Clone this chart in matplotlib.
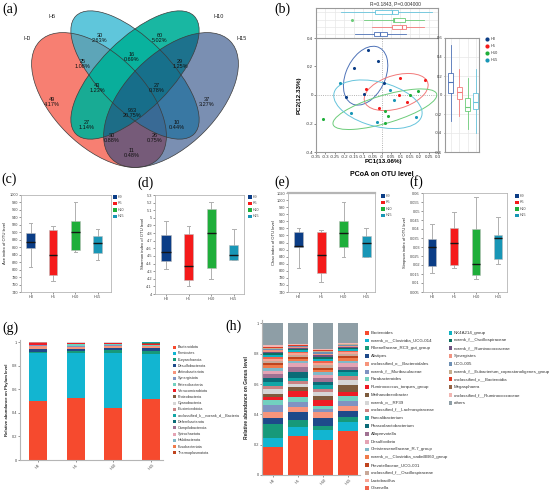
import numpy as np
import matplotlib
matplotlib.use('Agg')
import matplotlib.pyplot as plt
from matplotlib.patches import Ellipse, Rectangle

plt.rcParams['font.family'] = ['Liberation Sans', 'DejaVu Sans']

# ---------------- data ----------------
groups = ['H0', 'H5', 'H10', 'H15']
group_colors = ['#0b3d86', '#f51a1a', '#1fae3a', '#1896b6']
group_light = ['#4f73b8', '#f27a7a', '#6ccc7a', '#66c4dc']

# (a) Venn
venn_sets = ['H0', 'H5', 'H10', 'H15']
venn_counts = [49, 30, 60, 37, 25, 16, 29, 43, 27, 963, 27, 10, 30, 26, 11]
venn_pcts = ['4.17%', '2.63%', '5.02%', '3.27%', '1.08%', '0.69%', '1.25%',
             '1.23%', '0.78%', '20.75%', '1.14%', '0.44%', '0.88%', '0.75%', '0.48%']

# (b) PCoA points
pc1_H0 = [-0.073, -0.018, -0.149, 0.011, -0.095, -0.190]
pc2_H0 = [0.318, 0.236, 0.187, 0.082, 0.007, -0.017]
pc1_H5 = [0.099, 0.229, -0.082, 0.094, 0.135, -0.012]
pc2_H5 = [0.121, 0.105, 0.040, 0.000, -0.052, -0.089]
pc1_H10 = [0.193, 0.153, -0.314, 0.015, 0.035, 0.020]
pc2_H10 = [0.025, 0.000, -0.169, -0.110, -0.148, -0.197]
pc1_H15 = [-0.224, 0.045, 0.063, -0.165, -0.023, 0.184]
pc2_H15 = [0.082, 0.037, -0.035, -0.129, -0.188, -0.157]
# box summaries (whislo, q1, med, q3, whishi)
pc1_box = [[-0.140, -0.042, -0.010, 0.026, 0.128],
           [-0.050, 0.057, 0.110, 0.132, 0.227],
           [-0.096, 0.060, 0.066, 0.125, 0.227],
           [-0.216, -0.037, 0.053, 0.087, 0.267]]
pc1_fliers = [[], [], [-0.158], []]
pc2_box = [[-0.278, 0.024, 0.140, 0.227, 0.526],
           [-0.225, -0.042, 0.027, 0.087, 0.270],
           [-0.360, -0.165, -0.123, -0.032, 0.180],
           [-0.400, -0.147, -0.078, 0.020, 0.270]]

# (c)-(f) alpha diversity box summaries (whislo, q1, med, q3, whishi)
ace_stats = [[806, 857, 874, 897.6, 924], [770, 785, 839, 905.6, 916],
             [848, 853, 901, 929, 982], [826, 844, 871, 889.6, 908]]
shannon_stats = [[4.334, 4.436, 4.552, 4.770, 4.962], [4.102, 4.178, 4.374, 4.788, 4.895],
                 [4.200, 4.343, 4.797, 5.117, 5.207], [4.440, 4.440, 4.507, 4.637, 4.855]]
chao_stats = [[808, 866, 870, 909.6, 921], [768, 795, 843.6, 910.6, 915],
              [839, 867, 906, 941.7, 994.5], [839.4, 839.4, 880, 899, 921]]
simpson_stats = [[0.0156, 0.0195, 0.0302, 0.0345, 0.0430], [0.0184, 0.0199, 0.0320, 0.0406, 0.0492],
                 [0.0123, 0.0143, 0.0207, 0.0400, 0.0576], [0.0207, 0.0235, 0.0352, 0.0369, 0.0465]]

# (g) phylum
phylum_names = ['Bacteroidota', 'Firmicutes', 'Euryarchaeota', 'Desulfobacterota', 'Actinobacteriota',
                'Synergistota', 'Patescibacteria', 'Verrucomicrobiota', 'Proteobacteria', 'Cyanobacteria',
                'Elusimicrobiota', 'unclassified_k__norank_d__Bacteria', 'Deferribacterota',
                'Campilobacterota', 'Spirochaetota', 'Halobacterota', 'Fusobacteriota', 'Thermoplasmatota']
phylum_H0 = [0.500, 0.404, 0.014, 0.024, 0.022, 0.008, 0.006, 0.010, 0.004, 0.002, 0.002, 0.001, 0.001, 0.001, 0.0005, 0.0005, 0.0003, 0.0002]
phylum_H5 = [0.524, 0.383, 0.018, 0.018, 0.012, 0.010, 0.022, 0.003, 0.004, 0.002, 0.001, 0.001, 0.0005, 0.0005, 0.0003, 0.0003, 0.0002, 0.0002]
phylum_H10 = [0.437, 0.470, 0.025, 0.018, 0.020, 0.006, 0.008, 0.006, 0.004, 0.002, 0.001, 0.001, 0.0005, 0.0005, 0.0003, 0.0003, 0.0002, 0.0002]
phylum_H15 = [0.518, 0.378, 0.030, 0.020, 0.016, 0.008, 0.006, 0.004, 0.010, 0.003, 0.002, 0.001, 0.001, 0.001, 0.0005, 0.0005, 0.0003, 0.0002]

# (h) genus
genus_names = ['Bacteroides', 'norank_o__Clostridia_UCG-014', 'Rikenellaceae_RC9_gut_group', 'Alistipes',
               'unclassified_o__Bacteroidales', 'norank_f__Muribaculaceae', 'Parabacteroides',
               'Ruminococcus_torques_group', 'Methanobrevibacter', 'norank_o__RF39',
               'unclassified_f__Lachnospiraceae', 'Faecalibacterium', 'Phascolarctobacterium',
               'Alloprevotella', 'Desulfovibrio', 'Christensenellaceae_R-7_group',
               'norank_o__Clostridia_vadinBB60_group', 'Prevotellaceae_UCG-001',
               'unclassified_f__Oscillospiraceae', 'Lactobacillus', 'Olsenella',
               'NK4A214_group', 'norank_f__Oscillospiraceae', 'norank_f__Ruminococcaceae', 'Synergistes',
               'UCG-005', 'norank_f__Eubacterium_coprostanoligenes_group', 'unclassified_c__Bacteroidia',
               'Megasphaera', 'unclassified_f__Ruminococcaceae', 'others']
genus_H0 = [0.182, 0.062, 0.094, 0.040, 0.035, 0.049, 0.033, 0.020, 0.020, 0.029, 0.024, 0.028, 0.022, 0.029, 0.022, 0.015,
            0.018, 0.015, 0.016, 0.013, 0.013, 0.013, 0.013, 0.009, 0.009, 0.007, 0.006, 0.007, 0.004, 0.007, 0.147]
genus_H5 = [0.257, 0.062, 0.044, 0.055, 0.030, 0.031, 0.037, 0.040, 0.026, 0.018, 0.020, 0.017, 0.040, 0.037, 0.022, 0.016,
            0.013, 0.013, 0.013, 0.011, 0.011, 0.009, 0.009, 0.006, 0.007, 0.004, 0.005, 0.002, 0.002, 0.005, 0.138]
genus_H10 = [0.231, 0.064, 0.028, 0.051, 0.039, 0.022, 0.022, 0.035, 0.031, 0.022, 0.022, 0.026, 0.022, 0.022, 0.022, 0.018,
             0.015, 0.016, 0.017, 0.016, 0.013, 0.013, 0.013, 0.011, 0.009, 0.009, 0.006, 0.007, 0.004, 0.007, 0.167]
genus_H15 = [0.292, 0.055, 0.038, 0.039, 0.033, 0.031, 0.035, 0.026, 0.044, 0.033, 0.029, 0.022, 0.015, 0.022, 0.022, 0.016,
             0.017, 0.013, 0.014, 0.013, 0.011, 0.011, 0.009, 0.006, 0.007, 0.004, 0.005, 0.002, 0.002, 0.004, 0.130]

palette = ['#f64a2e', '#12b5d1', '#17997a', '#1e4a8a', '#f7957c', '#7f93c2', '#72d0c0', '#ee1c25',
           '#7d5b3d', '#d6d6d6', '#c98282', '#12a6a6', '#0b6b77', '#a07192', '#e4a3b4', '#80b8c8',
           '#f07b4b', '#c0441e', '#c8a898', '#f8a494', '#f0644c', '#0fb2c2', '#0d6f5f', '#6e5280',
           '#f19482', '#6d8fb3', '#c5ad8c', '#dd3a25', '#946344', '#f2b6b2', '#8e9ea6']

# ---------------- layout helpers ----------------
W, H = 550, 495
fig = plt.figure(figsize=(5.5, 4.95), dpi=100)
fig.patch.set_facecolor('white')


def px_axes(l, t, r, b):
    return fig.add_axes([l / W, 1 - b / H, (r - l) / W, (b - t) / H])


SPINE = '#a8a8a8'


def style_spines(ax, color=SPINE, lw=0.6):
    for s in ax.spines.values():
        s.set_color(color)
        s.set_linewidth(lw)


def fmt(v):
    return f'{round(v, 4):g}'


# ---------------- (b) PCoA ----------------
pc1_all = [pc1_H0, pc1_H5, pc1_H10, pc1_H15]
pc2_all = [pc2_H0, pc2_H5, pc2_H10, pc2_H15]

axm = px_axes(316, 38, 438, 152)
axm.set_xlim(-0.35, 0.3)
axm.set_ylim(-0.4, 0.4)
axm.axhline(0, color='#9a9a9a', lw=0.6, ls=':', zorder=0)
axm.axvline(0, color='#9a9a9a', lw=0.6, ls=':', zorder=0)
k_std = 1.55
for x, y, c, cl in zip(pc1_all, pc2_all, group_colors, group_light):
    x = np.asarray(x)
    y = np.asarray(y)
    cov = np.cov(x, y)
    vals, vecs = np.linalg.eigh(cov)
    order = vals.argsort()[::-1]
    vals, vecs = vals[order], vecs[:, order]
    ang = np.degrees(np.arctan2(vecs[1, 0], vecs[0, 0]))
    axm.add_patch(Ellipse((x.mean(), y.mean()), 2 * k_std * np.sqrt(vals[0]), 2 * k_std * np.sqrt(vals[1]),
                          angle=ang, fill=False, ec=cl, lw=0.7))
    axm.scatter(x, y, s=5, color=c, zorder=3, lw=0)
xt = np.arange(-0.35, 0.3001, 0.05)
axm.set_xticks(xt)
axm.set_xticklabels([fmt(v) for v in xt])
yt = np.arange(-0.4, 0.4001, 0.2)
axm.set_yticks(yt)
axm.set_yticklabels([fmt(v) for v in yt])
axm.tick_params(labelsize=3.2, length=1.2, width=0.4, pad=1, colors='#333333')
style_spines(axm, '#9a9a9a', 0.8)

# top box panel
axt = px_axes(316, 8, 438, 38)
st = [dict(whislo=s[0], q1=s[1], med=s[2], q3=s[3], whishi=s[4], fliers=f) for s, f in zip(pc1_box, pc1_fliers)]
art = axt.bxp(st, positions=[1, 2, 3, 4], widths=0.55, orientation='horizontal', patch_artist=True,
              showfliers=True, capwidths=0.0)
for i, c in enumerate(group_light):
    art['boxes'][i].set(facecolor='white', edgecolor=c, lw=0.6)
    art['medians'][i].set(color=c, lw=0.8)
    for w in art['whiskers'][2 * i:2 * i + 2]:
        w.set(color=c, lw=0.6)
    for cp in art['caps'][2 * i:2 * i + 2]:
        cp.set(color=c, lw=0)
    art['fliers'][i].set(marker='o', markersize=1.2, markerfacecolor=c, markeredgecolor=c)
axt.set_xlim(-0.35, 0.3)
axt.set_ylim(0.45, 4.6)
axt.set_xticks(xt)
axt.set_xticklabels([])
axt.set_yticks([1, 2, 3, 4])
axt.set_yticklabels([])
axt.tick_params(length=0)
axt.grid(True, color='#e8e8e8', lw=0.5)
axt.set_axisbelow(True)
style_spines(axt, '#9a9a9a', 0.8)

# right box panel
axr = px_axes(445, 38, 479, 152)
st = [dict(whislo=s[0], q1=s[1], med=s[2], q3=s[3], whishi=s[4], fliers=[]) for s in pc2_box]
art = axr.bxp(st, positions=[1, 2, 3, 4], widths=0.6, patch_artist=True, showfliers=False, capwidths=0.0)
for i, c in enumerate(group_light):
    art['boxes'][i].set(facecolor='white', edgecolor=c, lw=0.6)
    art['medians'][i].set(color=c, lw=0.8)
    for w in art['whiskers'][2 * i:2 * i + 2]:
        w.set(color=c, lw=0.6)
    for cp in art['caps'][2 * i:2 * i + 2]:
        cp.set(lw=0)
axr.set_xlim(0.32, 4.36)
axr.set_ylim(-0.6, 0.6)
yt2 = np.arange(-0.6, 0.6001, 0.2)
axr.set_yticks(yt2)
axr.set_yticklabels([fmt(v) for v in yt2])
axr.set_xticks([1, 2, 3, 4])
axr.set_xticklabels([])
axr.tick_params(labelsize=3.0, length=1.0, width=0.4, pad=1, colors='#333333')
axr.tick_params(axis='x', length=0)
axr.grid(True, color='#e8e8e8', lw=0.5)
axr.set_axisbelow(True)
style_spines(axr, '#9a9a9a', 0.8)


# ---------------- (c)-(f) box panels ----------------
def box_panel(rect, xlim, stats, ylim, yticks):
    ax = px_axes(*rect)
    bs = [dict(whislo=s[0], q1=s[1], med=s[2], q3=s[3], whishi=s[4], fliers=[]) for s in stats]
    art = ax.bxp(bs, positions=[1, 2, 3, 4], widths=0.4, patch_artist=True, showfliers=False, capwidths=0.16)
    for i, c in enumerate(group_colors):
        art['boxes'][i].set(facecolor=c, edgecolor='#bbbbbb', lw=0.4, zorder=2)
        art['medians'][i].set(color='#151515', lw=1.0, zorder=3)
        for w in art['whiskers'][2 * i:2 * i + 2]:
            w.set(color='#b0b0b0', lw=0.7, zorder=1)
        for cp in art['caps'][2 * i:2 * i + 2]:
            cp.set(color='#b0b0b0', lw=0.7, zorder=1)
    ax.set_xlim(*xlim)
    ax.set_ylim(*ylim)
    ax.set_yticks(yticks)
    ax.set_yticklabels([fmt(v) for v in yticks])
    ax.set_xticks([1, 2, 3, 4])
    ax.set_xticklabels(groups)
    ax.tick_params(labelsize=2.8, length=1.2, width=0.4, pad=1, colors='#444444')
    style_spines(ax, '#b5b5b5', 0.6)
    return ax


axc = box_panel((21, 195, 111, 292), (0.565, 4.6), ace_stats, (740, 1000), np.arange(740, 1001, 20))
axd = box_panel((155, 195, 244, 294), (0.513, 4.456), shannon_stats, (4.0, 5.3), np.arange(4.0, 5.3001, 0.1))
axe = box_panel((288, 193, 375, 292), (0.533, 4.4), chao_stats, (740, 1020), np.arange(740, 1021, 20))
axe.spines['top'].set_linewidth(1.6)
axf = box_panel((423, 193, 507, 292), (0.59, 4.41), simpson_stats, (0.005, 0.06), np.arange(0.005, 0.06001, 0.005))

# ---------------- (g) phylum bars ----------------
phylum_all = [phylum_H0, phylum_H5, phylum_H10, phylum_H15]
axg = px_axes(20, 340, 163, 460)
xpos = np.arange(len(groups))
bottom = np.zeros(len(groups))
for j in range(len(phylum_names)):
    vals = np.array([p[j] for p in phylum_all])
    axg.bar(xpos, vals, width=0.48, bottom=bottom, color=palette[j], lw=0)
    bottom += vals
axg.set_xlim(-0.477, 3.316)
axg.set_ylim(0, 1.017)
axg.set_yticks([0, 0.2, 0.4, 0.6, 0.8, 1.0])
axg.set_yticklabels(['0', '0.2', '0.4', '0.6', '0.8', '1'])
axg.set_xticks(xpos)
axg.set_xticklabels(groups, rotation=45)
axg.tick_params(labelsize=2.8, length=1.2, width=0.4, pad=1, colors='#444444')
for s in ['top', 'right']:
    axg.spines[s].set_visible(False)
for s in ['left', 'bottom']:
    axg.spines[s].set_color('#b5b5b5')
    axg.spines[s].set_linewidth(0.8)

# ---------------- (h) genus bars ----------------
genus_all = [genus_H0, genus_H5, genus_H10, genus_H15]
axh = px_axes(262, 320, 360, 475)
bottom = np.zeros(len(groups))
for j in range(len(genus_names)):
    vals = np.array([g[j] for g in genus_all])
    axh.bar(xpos, vals, width=0.8, bottom=bottom, color=palette[j], lw=0)
    bottom += vals
axh.set_xlim(-0.44, 3.48)
axh.set_ylim(0, 1.022)
axh.set_yticks([0, 0.2, 0.4, 0.6, 0.8, 1.0])
axh.set_yticklabels(['0', '0.2', '0.4', '0.6', '0.8', '1'])
axh.set_xticks(xpos)
axh.set_xticklabels(groups, rotation=45)
axh.tick_params(labelsize=2.8, length=1.2, width=0.4, pad=1, colors='#444444')
for s in ['top', 'right']:
    axh.spines[s].set_visible(False)
for s in ['left', 'bottom']:
    axh.spines[s].set_color('#b5b5b5')
    axh.spines[s].set_linewidth(0.8)

# ---------------- overlay (pixel coordinates) ----------------
ov = fig.add_axes([0, 0, 1, 1])
ov.set_xlim(0, W)
ov.set_ylim(H, 0)
ov.axis('off')
ov.patch.set_alpha(0)

# (a) Venn ellipses
venn_geom = [((99, 100), 167, 92, 45), ((135, 75), 167, 71, 45),
             ((135, 75), 167, 71, -45), ((171, 100), 167, 92, -45)]
venn_fill = ['#f55f4f', '#2ab3d0', '#00b098', '#21447f']
venn_alpha = [0.8, 0.75, 0.9, 0.6]
for (cxy, w, h, a), fc, al in zip(venn_geom, venn_fill, venn_alpha):
    ov.add_patch(Ellipse(cxy, w, h, angle=a, facecolor=fc, alpha=al, lw=0))
for (cxy, w, h, a) in venn_geom:
    ov.add_patch(Ellipse(cxy, w, h, angle=a, fill=False, ec='#3c3c3c', lw=0.5))
venn_text_pos = [(52, 102), (100, 38), (160, 38), (207, 102), (83, 64), (132, 57), (180, 64),
                 (97, 88), (157, 88), (132, 113), (87, 125), (177, 125), (112, 138), (155, 138), (132, 153)]
for (x, y), n, p in zip(venn_text_pos, venn_counts, venn_pcts):
    ov.text(x, y, f'{n}\n{p}', fontsize=4, ha='center', va='center', linespacing=1.0, color='#111111')
venn_set_pos = [(27, 39), (52, 16), (219, 16), (242, 39)]
for (x, y), s in zip(venn_set_pos, venn_sets):
    ov.text(x, y, s, fontsize=4, ha='center', va='center', color='#222222')

# PCoA texts
ov.text(395, 4, 'R=0.1843, P=0.004000', fontsize=3.5, ha='center', va='center', color='#333333')
ov.text(383, 162, 'PC1(13.06%)', fontsize=4.5, ha='center', va='center', fontweight='bold')
ov.text(299, 95, 'PC2(12.33%)', fontsize=4.5, ha='center', va='center', fontweight='bold', rotation=90)
ov.text(382, 175, 'PCoA on OTU level', fontsize=5, ha='center', va='center', fontweight='bold')
for i, (g, c) in enumerate(zip(groups, group_colors)):
    ov.scatter([487], [39 + 7 * i], s=9, color=c, lw=0)
    ov.text(490.5, 39 + 7 * i, g, fontsize=2.8, ha='left', va='center', color='#333333')

# box panel y labels and legends
ylabels = [(5, 'Ace index of OTU level'), (143, 'Shannon index of OTU level'),
           (274, 'Chao index of OTU level'), (405, 'Simpson index of OTU level')]
for x, s in ylabels:
    ov.text(x, 243, s, fontsize=3.0, ha='center', va='center', rotation=90, color='#222222')
for lx, ly in [(113, 195), (248, 195), (381, 194), (515, 194)]:
    for i, (g, c) in enumerate(zip(groups, group_colors)):
        ov.add_patch(Rectangle((lx, ly + 6.5 * i), 3.6, 3.6, color=c, lw=0))
        ov.text(lx + 5, ly + 6.5 * i + 1.8, g, fontsize=2.6, ha='left', va='center', color='#444444')

# (g) legend
for i, (nm, c) in enumerate(zip(phylum_names, palette)):
    y = 347.3 + 6.2 * i
    ov.add_patch(Rectangle((172.5, y - 1.5), 3.0, 3.0, color=c, lw=0))
    ov.text(177.5, y, nm, fontsize=2.7, ha='left', va='center', color='#333333')
ov.text(7.5, 400, 'Relative abundance on Phylum level', fontsize=3.1, ha='center', va='center',
        rotation=90, fontweight='bold', color='#222222')

# (h) legend
for i, (nm, c) in enumerate(zip(genus_names, palette)):
    col = 0 if i < 21 else 1
    r = i if i < 21 else i - 21
    x0 = 365 if col == 0 else 448.5
    y = 332.7 + 7.78 * r
    ov.add_patch(Rectangle((x0, y - 1.9), 3.8, 3.8, color=c, lw=0))
    ov.text(x0 + 5.5, y, nm, fontsize=3.2, ha='left', va='center', color='#333333')
ov.text(246.5, 398, 'Relative abundance on Genus level', fontsize=3.5, ha='center', va='center',
        rotation=90, fontweight='bold', color='#222222')

# panel letters
for (x, y), s in zip([(10, 9), (282, 9), (9, 179), (146, 183), (282, 182), (416, 182), (10, 328), (234, 326)],
                     ['(a)', '(b)', '(c)', '(d)', '(e)', '(f)', '(g)', '(h)']):
    ov.text(x, y, s, fontsize=10, ha='center', va='center', family=['Liberation Serif', 'DejaVu Serif'])

fig.savefig('out.png', dpi=100, facecolor='white')
